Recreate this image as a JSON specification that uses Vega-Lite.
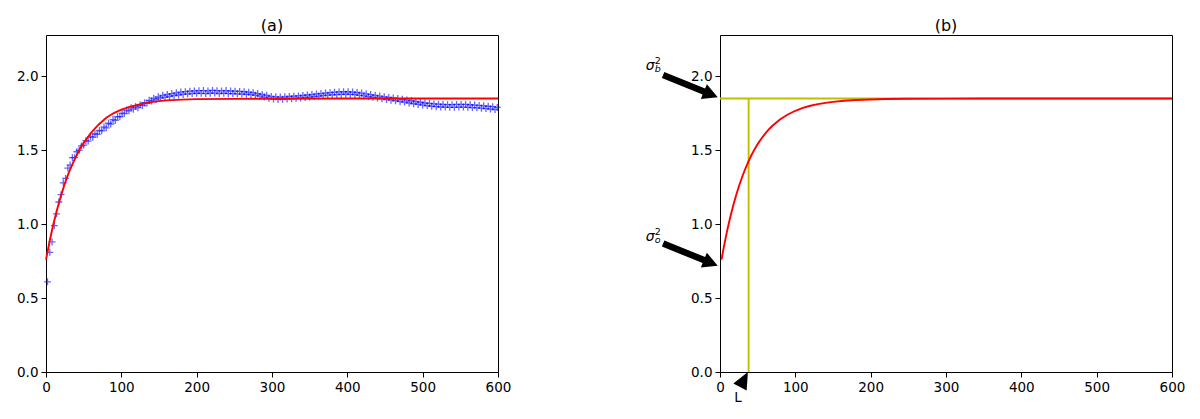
{
  "$schema": "https://vega.github.io/schema/vega-lite/v6.json",
  "padding": {"left": 16, "top": 17, "right": 5, "bottom": 5},
  "background": "white",
  "bounds": "flush",
  "spacing": 222,
  "config": {
    "font": "DejaVu Sans",
    "view": {"stroke": "black", "strokeWidth": 1},
    "axis": {"domain": false, "grid": false, "ticks": true, "tickColor": "black", "tickSize": 5, "tickWidth": 1, "labelFont": "DejaVu Sans", "labelFontSize": 13.5, "labelColor": "black", "labelPadding": 3, "labelFlush": false, "labelOverlap": false, "title": null},
    "title": {"font": "DejaVu Sans", "fontSize": 16, "fontWeight": "normal", "color": "black", "anchor": "middle", "baseline": "alphabetic", "offset": 1}
  },
  "datasets": {
    "blue": [
      {"x":2,"y":0.61},{"x":5,"y":0.81},{"x":8,"y":0.88},{"x":11,"y":0.99},{"x":14,"y":1.07},{"x":17,"y":1.15},{"x":20,"y":1.2},{"x":23,"y":1.28},{"x":26,"y":1.31},{"x":29,"y":1.38},
      {"x":32,"y":1.4},{"x":35,"y":1.45},{"x":38,"y":1.45},{"x":41,"y":1.49},{"x":44,"y":1.5},{"x":47,"y":1.53},{"x":50,"y":1.535},{"x":53,"y":1.565},{"x":56,"y":1.562},{"x":59,"y":1.593},
      {"x":62,"y":1.588},{"x":65,"y":1.612},{"x":68,"y":1.607},{"x":71,"y":1.634},{"x":74,"y":1.632},{"x":77,"y":1.658},{"x":80,"y":1.652},{"x":83,"y":1.683},{"x":86,"y":1.678},{"x":89,"y":1.708},
      {"x":92,"y":1.702},{"x":95,"y":1.728},{"x":98,"y":1.727},{"x":101,"y":1.752},{"x":104,"y":1.748},{"x":107,"y":1.772},{"x":110,"y":1.767},{"x":113,"y":1.788},{"x":116,"y":1.778},{"x":119,"y":1.797},
      {"x":122,"y":1.788},{"x":125,"y":1.808},{"x":128,"y":1.803},{"x":131,"y":1.822},{"x":134,"y":1.818},{"x":137,"y":1.838},{"x":140,"y":1.833},{"x":143,"y":1.852},{"x":146,"y":1.843},{"x":149,"y":1.862},
      {"x":152,"y":1.853},{"x":155,"y":1.872},{"x":158,"y":1.858},{"x":161,"y":1.878},{"x":164,"y":1.864},{"x":167,"y":1.884},{"x":170,"y":1.87},{"x":173,"y":1.889},{"x":176,"y":1.874},{"x":179,"y":1.894},
      {"x":182,"y":1.878},{"x":185,"y":1.897},{"x":188,"y":1.882},{"x":191,"y":1.9},{"x":194,"y":1.884},{"x":197,"y":1.902},{"x":200,"y":1.886},{"x":203,"y":1.903},{"x":206,"y":1.885},{"x":209,"y":1.904},
      {"x":212,"y":1.884},{"x":215,"y":1.902},{"x":218,"y":1.886},{"x":221,"y":1.905},{"x":224,"y":1.887},{"x":227,"y":1.903},{"x":230,"y":1.884},{"x":233,"y":1.902},{"x":236,"y":1.886},{"x":239,"y":1.904},
      {"x":242,"y":1.883},{"x":245,"y":1.901},{"x":248,"y":1.884},{"x":251,"y":1.9},{"x":254,"y":1.882},{"x":257,"y":1.898},{"x":260,"y":1.88},{"x":263,"y":1.896},{"x":266,"y":1.879},{"x":269,"y":1.893},
      {"x":272,"y":1.876},{"x":275,"y":1.89},{"x":278,"y":1.872},{"x":281,"y":1.884},{"x":284,"y":1.866},{"x":287,"y":1.878},{"x":290,"y":1.86},{"x":293,"y":1.872},{"x":296,"y":1.852},{"x":299,"y":1.865},
      {"x":302,"y":1.846},{"x":305,"y":1.862},{"x":308,"y":1.844},{"x":311,"y":1.86},{"x":314,"y":1.845},{"x":317,"y":1.862},{"x":320,"y":1.847},{"x":323,"y":1.864},{"x":326,"y":1.849},{"x":329,"y":1.866},
      {"x":332,"y":1.851},{"x":335,"y":1.868},{"x":338,"y":1.854},{"x":341,"y":1.871},{"x":344,"y":1.857},{"x":347,"y":1.874},{"x":350,"y":1.86},{"x":353,"y":1.877},{"x":356,"y":1.863},{"x":359,"y":1.881},
      {"x":362,"y":1.867},{"x":365,"y":1.884},{"x":368,"y":1.87},{"x":371,"y":1.887},{"x":374,"y":1.873},{"x":377,"y":1.89},{"x":380,"y":1.875},{"x":383,"y":1.893},{"x":386,"y":1.877},{"x":389,"y":1.895},
      {"x":392,"y":1.878},{"x":395,"y":1.896},{"x":398,"y":1.879},{"x":401,"y":1.896},{"x":404,"y":1.878},{"x":407,"y":1.894},{"x":410,"y":1.876},{"x":413,"y":1.891},{"x":416,"y":1.872},{"x":419,"y":1.887},
      {"x":422,"y":1.868},{"x":425,"y":1.882},{"x":428,"y":1.863},{"x":431,"y":1.877},{"x":434,"y":1.858},{"x":437,"y":1.872},{"x":440,"y":1.853},{"x":443,"y":1.867},{"x":446,"y":1.848},{"x":449,"y":1.862},
      {"x":452,"y":1.843},{"x":455,"y":1.858},{"x":458,"y":1.839},{"x":461,"y":1.854},{"x":464,"y":1.835},{"x":467,"y":1.85},{"x":470,"y":1.83},{"x":473,"y":1.845},{"x":476,"y":1.826},{"x":479,"y":1.84},
      {"x":482,"y":1.82},{"x":485,"y":1.835},{"x":488,"y":1.815},{"x":491,"y":1.83},{"x":494,"y":1.81},{"x":497,"y":1.825},{"x":500,"y":1.806},{"x":503,"y":1.82},{"x":506,"y":1.802},{"x":509,"y":1.817},
      {"x":512,"y":1.798},{"x":515,"y":1.814},{"x":518,"y":1.795},{"x":521,"y":1.812},{"x":524,"y":1.793},{"x":527,"y":1.81},{"x":530,"y":1.792},{"x":533,"y":1.809},{"x":536,"y":1.791},{"x":539,"y":1.809},
      {"x":542,"y":1.791},{"x":545,"y":1.81},{"x":548,"y":1.792},{"x":551,"y":1.81},{"x":554,"y":1.792},{"x":557,"y":1.81},{"x":560,"y":1.791},{"x":563,"y":1.808},{"x":566,"y":1.789},{"x":569,"y":1.806},
      {"x":572,"y":1.787},{"x":575,"y":1.804},{"x":578,"y":1.785},{"x":581,"y":1.801},{"x":584,"y":1.782},{"x":587,"y":1.798},{"x":590,"y":1.779},{"x":593,"y":1.795},{"x":596,"y":1.776},{"x":599,"y":1.79}
    ],
    "redA": [
      {"x":0,"y":0.76},{"x":5,"y":0.89},{"x":10,"y":1.005},{"x":15,"y":1.105},{"x":20,"y":1.195},{"x":25,"y":1.275},{"x":30,"y":1.345},{"x":35,"y":1.405},{"x":40,"y":1.46},{"x":45,"y":1.51},
      {"x":50,"y":1.55},{"x":60,"y":1.62},{"x":70,"y":1.675},{"x":80,"y":1.72},{"x":90,"y":1.752},{"x":100,"y":1.775},{"x":110,"y":1.792},{"x":120,"y":1.806},{"x":130,"y":1.817},{"x":140,"y":1.826},
      {"x":150,"y":1.833},{"x":160,"y":1.838},{"x":180,"y":1.843},{"x":200,"y":1.846},{"x":250,"y":1.848},{"x":300,"y":1.849},{"x":400,"y":1.85},{"x":600,"y":1.85}
    ],
    "redB": [
      {"x":2,"y":0.76},{"x":4,"y":0.816},{"x":6,"y":0.869},{"x":8,"y":0.919},{"x":10,"y":0.967},{"x":14,"y":1.055},{"x":18,"y":1.1345},{"x":22,"y":1.206},{"x":26,"y":1.27},{"x":30,"y":1.328},
      {"x":34,"y":1.38},{"x":38,"y":1.4275},{"x":42,"y":1.4696},{"x":46,"y":1.5076},{"x":50,"y":1.5418},{"x":55,"y":1.5798},{"x":60,"y":1.6131},{"x":65,"y":1.6424},{"x":70,"y":1.6679},{"x":80,"y":1.71},
      {"x":90,"y":1.7424},{"x":100,"y":1.7674},{"x":110,"y":1.7864},{"x":120,"y":1.8011},{"x":130,"y":1.8124},{"x":140,"y":1.8211},{"x":150,"y":1.8278},{"x":165,"y":1.835},{"x":180,"y":1.8399},{"x":200,"y":1.844},
      {"x":220,"y":1.8465},{"x":250,"y":1.8484},{"x":300,"y":1.8496},{"x":350,"y":1.8499},{"x":400,"y":1.85},{"x":600,"y":1.85}
    ],
    "hline": [{"x":0,"x2":600,"y":1.85}],
    "vline": [{"x":38,"y":0,"y2":1.85}],
    "arrows": [{"x":-3,"y":1.859},{"x":-3,"y":0.719}],
    "lhead": [{"x":37,"y":0}],
    "sig": [{"x":-98.6,"y":2.045,"main":"σ","sup":"2","sub":"b"},{"x":-98.6,"y":0.888,"main":"σ","sup":"2","sub":"o"}],
    "ltext": [{"x":24,"y":-0.203,"t":"L"}]
  },
  "hconcat": [
    {
      "width": 452,
      "height": 337,
      "title": "(a)",
      "encoding": {
        "x": {"field": "x", "type": "quantitative", "scale": {"domain": [0, 600], "nice": false, "zero": false}, "axis": {"values": [0,100,200,300,400,500,600], "format": "d"}},
        "y": {"field": "y", "type": "quantitative", "scale": {"domain": [0, 2.28], "nice": false, "zero": false}, "axis": {"values": [0,0.5,1,1.5,2], "format": ".1f"}}
      },
      "layer": [
        {"data": {"name": "blue"}, "mark": {"type": "point", "shape": "M-1,0H1M0,-1V1", "filled": false, "size": 48, "color": "#0000ff", "strokeWidth": 1.3, "opacity": 0.6}},
        {"data": {"name": "redA"}, "mark": {"type": "line", "color": "#ff0000", "strokeWidth": 1.9}}
      ]
    },
    {
      "width": 452,
      "height": 337,
      "title": "(b)",
      "encoding": {
        "x": {"field": "x", "type": "quantitative", "scale": {"domain": [0, 600], "nice": false, "zero": false}, "axis": {"values": [0,100,200,300,400,500,600], "format": "d"}},
        "y": {"field": "y", "type": "quantitative", "scale": {"domain": [0, 2.28], "nice": false, "zero": false}, "axis": {"values": [0,0.5,1,1.5,2], "format": ".1f"}}
      },
      "layer": [
        {"data": {"name": "hline"}, "mark": {"type": "rule", "color": "#bfbf00", "strokeWidth": 1.9}, "encoding": {"x2": {"field": "x2"}}},
        {"data": {"name": "vline"}, "mark": {"type": "rule", "color": "#bfbf00", "strokeWidth": 1.9}, "encoding": {"y2": {"field": "y2"}}},
        {"data": {"name": "redB"}, "mark": {"type": "line", "color": "#ff0000", "strokeWidth": 1.9}},
        {"data": {"name": "arrows"}, "mark": {"type": "point", "shape": "M0,0L-15,-8L-15,-3.3L-59,-3.3L-59,3.3L-15,3.3L-15,8Z", "filled": true, "size": 4, "color": "black", "opacity": 1, "angle": 22.2}},
        {"data": {"name": "lhead"}, "mark": {"type": "point", "shape": "M0,0L-17,-7.5L-17,7.5Z", "filled": true, "size": 4, "color": "black", "opacity": 1, "angle": -62.5}},
        {"data": {"name": "sig"}, "mark": {"type": "text", "align": "left", "baseline": "alphabetic", "fontSize": 14, "fontStyle": "italic", "color": "black"}, "encoding": {"text": {"field": "main"}}},
        {"data": {"name": "sig"}, "mark": {"type": "text", "align": "left", "baseline": "alphabetic", "fontSize": 9.5, "dx": 9, "dy": -6, "color": "black"}, "encoding": {"text": {"field": "sup"}}},
        {"data": {"name": "sig"}, "mark": {"type": "text", "align": "left", "baseline": "alphabetic", "fontSize": 9.5, "fontStyle": "italic", "dx": 9, "dy": 2.5, "color": "black"}, "encoding": {"text": {"field": "sub"}}},
        {"data": {"name": "ltext"}, "mark": {"type": "text", "align": "center", "baseline": "alphabetic", "fontSize": 13.5, "color": "black"}, "encoding": {"text": {"field": "t"}}}
      ]
    }
  ]
}
